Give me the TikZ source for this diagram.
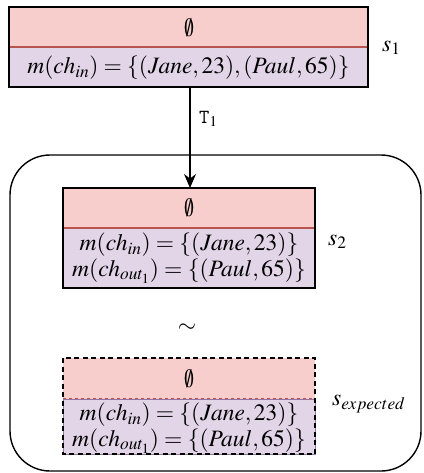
\documentclass[tikz,border=0pt]{standalone}
\usepackage{fontspec}
\setmainfont{Liberation Serif}
\usepackage{mathptmx}
\usepackage{graphicx}
\usetikzlibrary{arrows.meta}
\definecolor{redfill}{RGB}{248,206,204}
\definecolor{redline}{RGB}{184,84,80}
\definecolor{purpfill}{RGB}{225,213,231}
\definecolor{purpline}{RGB}{150,115,166}
\newcommand{\myempty}{\scalebox{0.8}[1.12]{$\emptyset$}}
\tikzset{
  lbl/.style={inner sep=0pt, font=\fontsize{23.5}{28}\selectfont},
  outerbox/.style={draw=black, line width=1.4pt},
  cont/.style={draw=black, line width=1.4pt, rounded corners=40pt},
}
\begin{document}
\begin{tikzpicture}[x=1pt,y=-1pt]
\useasboundingbox (0,0) rectangle (423,473);
% container
\draw[cont] (10,155) rectangle (421,471);
% box 1
\fill[redfill] (9,7) rectangle (368,47);
\fill[purpfill] (9,47) rectangle (368,87);
\draw[redline, line width=1.5pt] (9,47) -- (368,47);
\draw[outerbox] (9,7) rectangle (368,87);
\node[lbl] (e1) at (189,28) {\myempty};
\node[lbl] (m1) at (188.5,68) {$m(ch_{in}) = \{(Jane,23),(Paul,65)\}$};
\node[lbl, anchor=west] (s1) at (382,48) {$s_1$};
% box 2
\fill[redfill] (63,188) rectangle (315,228);
\fill[purpfill] (63,228) rectangle (315,288);
\draw[redline, line width=1.5pt] (63,228) -- (315,228);
\draw[outerbox] (63,188) rectangle (315,288);
\node[lbl] (e2) at (189,208) {\myempty};
\node[lbl] (m2a) at (189,245) {$m(ch_{in}) = \{(Jane,23)\}$};
\node[lbl] (m2b) at (189,271) {$m(ch_{out_1}) = \{(Paul,65)\}$};
\node[lbl, anchor=west] (s2) at (328,242) {$s_2$};
% sim
\node[lbl] (sim) at (187,328) {$\sim$};
% box 3
\fill[redfill] (63,358) rectangle (315,399);
\fill[purpfill] (63,399) rectangle (315,454);
\draw[redline, line width=1.3pt, dashed] (63,399) -- (315,399);
\draw[purpline, line width=1pt] (63,399) rectangle (315,454);
\draw[outerbox, dash pattern=on 5pt off 3.5pt] (63,358) rectangle (315,454);
\node[lbl] (e3) at (189,379) {\myempty};
\node[lbl] (m3a) at (189,415) {$m(ch_{in}) = \{(Jane,23)\}$};
\node[lbl] (m3b) at (189,441) {$m(ch_{out_1}) = \{(Paul,65)\}$};
\node[lbl, anchor=west] (s3) at (332,404) {$s_{expected}$};
% arrow
\coordinate (a1) at (190,87);
\coordinate (a2) at (190,188);
\draw[line width=1.4pt, -{Stealth[length=14pt,width=12pt]}] (a1) -- (a2);
\node[inner sep=0pt, anchor=west, font=\fontsize{20}{24}\selectfont] (t1) at (199,119) {\texttt{T}$_1$};
\end{tikzpicture}
\end{document}
